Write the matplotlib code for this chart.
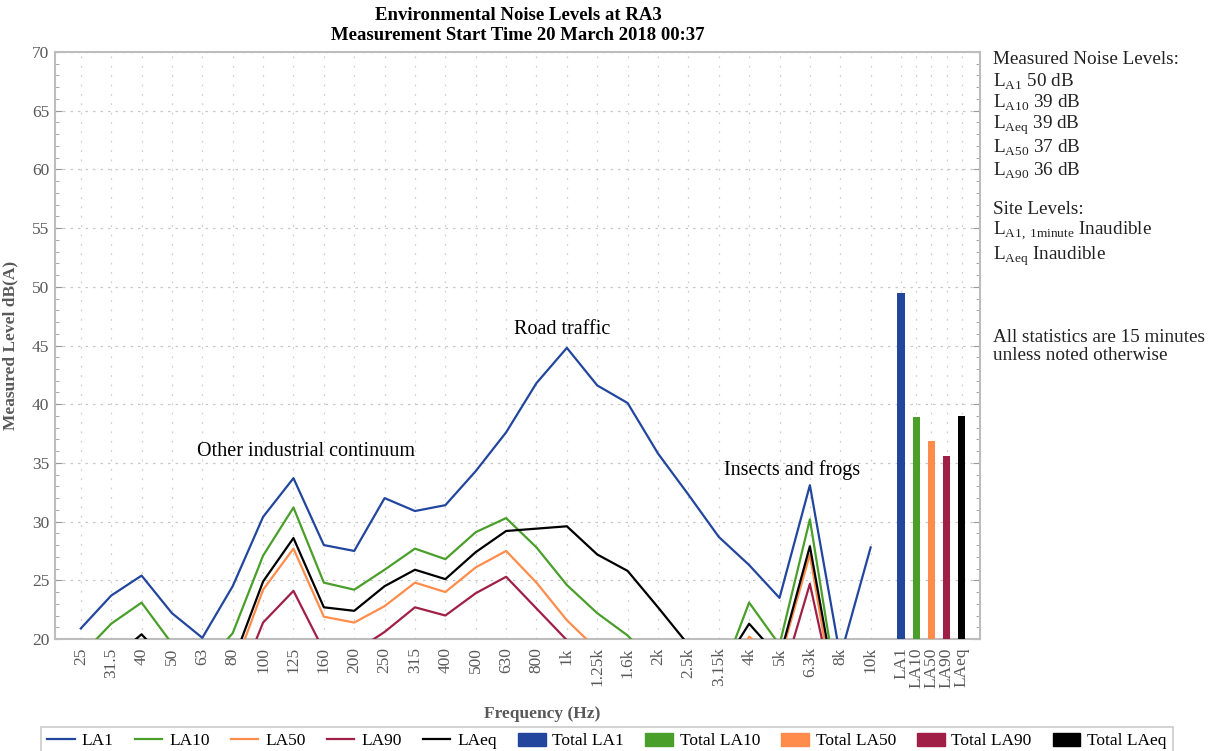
import numpy as np
import matplotlib
matplotlib.use("Agg")
import matplotlib.pyplot as plt
from matplotlib.lines import Line2D
from matplotlib.patches import Patch
from matplotlib.ticker import MultipleLocator

plt.rcParams["font.family"] = ["Liberation Serif", "DejaVu Serif"]
plt.rcParams["mathtext.fontset"] = "custom"
plt.rcParams["mathtext.rm"] = "Liberation Serif"

# One-third octave band centre frequencies
freqs = ["25", "31.5", "40", "50", "63", "80", "100", "125", "160", "200",
         "250", "315", "400", "500", "630", "800", "1k", "1.25k", "1.6k", "2k",
         "2.5k", "3.15k", "4k", "5k", "6.3k", "8k", "10k"]

# Band levels, dB(A)
la1 = [20.9, 23.7, 25.4, 22.2, 20.1, 24.5, 30.4, 33.7, 28.0, 27.5, 32.0, 30.9,
       31.4, 34.3, 37.6, 41.8, 44.8, 41.6, 40.1, 35.8, 32.3, 28.7, 26.3, 23.5,
       33.1, 18.5, 27.8]
la10 = [18.6, 21.3, 23.1, 19.6, 17.5, 20.5, 27.1, 31.2, 24.8, 24.2, 25.9, 27.7,
        26.8, 29.1, 30.3, 27.8, 24.6, 22.2, 20.3, 17.6, 16.8, 16.3, 23.1, 19.5,
        30.2, 14.1, 13.5]
la50 = [15.5, 16.0, 17.5, 15.5, 15.0, 17.2, 24.2, 27.7, 21.9, 21.4, 22.8, 24.8,
        24.0, 26.1, 27.5, 24.8, 21.6, 19.1, 17.0, 16.0, 15.5, 15.5, 20.2, 18.1,
        27.2, 12.0, 12.0]
la90 = [14.0, 14.5, 15.0, 14.0, 13.5, 15.0, 21.4, 24.1, 19.0, 18.9, 20.6, 22.7,
        22.0, 23.9, 25.3, 22.6, 19.9, 17.0, 15.5, 14.5, 14.0, 14.0, 15.0, 15.9,
        24.7, 12.8, 11.5]
laeq = [17.0, 18.2, 20.4, 17.6, 16.5, 18.0, 24.9, 28.6, 22.7, 22.4, 24.5, 25.9,
        25.1, 27.4, 29.2, 29.4, 29.6, 27.2, 25.8, 22.7, 19.5, 17.2, 21.3, 18.4,
        27.9, 13.5, 13.0]

# Overall (total) levels
total_labels = ["LA1", "LA10", "LA50", "LA90", "LAeq"]
total_values = [49.5, 38.9, 36.9, 35.6, 39.0]

series_names = ["LA1", "LA10", "LA50", "LA90", "LAeq"]
colors = ["#22469E", "#4A9E2A", "#FF8C4B", "#A01F47", "#000000"]
band_series = [la1, la10, la50, la90, laeq]

fig = plt.figure(figsize=(12.16, 7.51), dpi=100)
ax = fig.add_axes([55 / 1216, 1 - 639 / 751, 925 / 1216, 587 / 751])

x_band = np.arange(len(freqs))
x_total = len(freqs) + 0.5 * np.arange(len(total_labels))

for vals, col in zip(band_series, colors):
    ax.plot(x_band, vals, color=col, lw=1.6, zorder=3)

ax.bar(x_total, total_values, width=0.24, bottom=0, color=colors, zorder=3)

ax.set_ylim(20, 70)
ax.set_xlim(-0.85, 29.6)
ax.set_xticks(np.concatenate([x_band, x_total]))
ax.set_xticklabels(freqs + total_labels, rotation=90, fontsize=12.5,
                   color="#595959")
ax.yaxis.set_major_locator(MultipleLocator(5))
ax.yaxis.set_minor_locator(MultipleLocator(1))
for lbl in ax.get_yticklabels():
    lbl.set_fontsize(12.5)
    lbl.set_color("#595959")

ax.tick_params(axis="x", which="both", length=0, pad=6)
ax.tick_params(axis="y", which="major", direction="in", length=5,
               left=True, right=True, color="#999999", pad=4)
ax.tick_params(axis="y", which="minor", direction="in", length=3,
               left=True, right=True, color="#999999")

ax.grid(True, axis="y", which="major", color="#c8c8c8", lw=0.9,
        linestyle=(0, (2, 4)), zorder=0)
ax.grid(True, axis="x", which="major", color="#d0d0d0", lw=0.9,
        linestyle=(0, (1.5, 6)), zorder=0)
for sp in ax.spines.values():
    sp.set_color("#bdbdbd")
    sp.set_linewidth(1.5)

ax.set_xlabel("Frequency (Hz)", fontsize=12.5, fontweight="bold",
              color="#595959")
ax.xaxis.set_label_coords((542 - 55) / 925, (639 - 706) / 587)
ax.set_ylabel("Measured Level dB(A)", fontsize=12.5, fontweight="bold",
              color="#595959")
ax.yaxis.set_label_coords((18 - 55) / 925, 0.5)

# Source annotations
ann_size = 14.5
ax.text(7.4, 36.0, "Other industrial continuum", fontsize=ann_size,
        ha="center", va="center")
ax.text(15.85, 46.4, "Road traffic", fontsize=ann_size, ha="center",
        va="center")
ax.text(23.4, 34.4, "Insects and frogs", fontsize=ann_size, ha="center",
        va="center")

fig.text(518 / 1216, 1 - 16 / 751, "Environmental Noise Levels at RA3",
         ha="center", va="center", fontsize=13.5, fontweight="bold")
fig.text(518 / 1216, 1 - 36 / 751, "Measurement Start Time 20 March 2018 00:37",
         ha="center", va="center", fontsize=13.5, fontweight="bold")

# Summary panel
side_x = 993 / 1216
side_size = 13.8
tc = "#222222"
fig.text(side_x, 1 - 60 / 751, "Measured Noise Levels:", fontsize=side_size,
         va="center", color=tc)
order = ["LA1", "LA10", "LAeq", "LA50", "LA90"]
ys = [82, 103, 125, 148, 171]
for name, yp in zip(order, ys):
    v = total_values[total_labels.index(name)]
    sub = name[1:]
    fig.text(side_x, 1 - yp / 751,
             r"L$_{\mathrm{" + sub + r"}}$ " + f"{v:.0f} dB",
             fontsize=side_size, va="center", color=tc)
fig.text(side_x, 1 - 209 / 751, "Site Levels:", fontsize=side_size,
         va="center", color=tc)
fig.text(side_x, 1 - 231 / 751, r"L$_{\mathrm{A1,\,1minute}}$ Inaudible",
         fontsize=side_size, va="center", color=tc)
fig.text(side_x, 1 - 256 / 751, r"L$_{\mathrm{Aeq}}$ Inaudible",
         fontsize=side_size, va="center", color=tc)
fig.text(side_x, 1 - 337 / 751, "All statistics are 15 minutes",
         fontsize=side_size, va="center", color=tc)
fig.text(side_x, 1 - 355 / 751, "unless noted otherwise",
         fontsize=side_size, va="center", color=tc)

# Legend
handles = [Line2D([], [], color=c, lw=1.6) for c in colors]
handles += [Patch(facecolor=c, edgecolor=c) for c in colors]
labels = series_names + ["Total " + n for n in total_labels]
leg = fig.legend(handles, labels, loc="upper center",
                 bbox_to_anchor=(607 / 1216, 1 - 727 / 751), ncol=10,
                 fontsize=12.5, frameon=True, fancybox=False, handlelength=1.6,
                 handleheight=0.75, handletextpad=0.4, columnspacing=1.2,
                 borderpad=0.35, borderaxespad=0.0)
leg.get_frame().set_edgecolor("#bdbdbd")
leg.get_frame().set_linewidth(1.2)

fig.savefig("out.png", dpi=100)
